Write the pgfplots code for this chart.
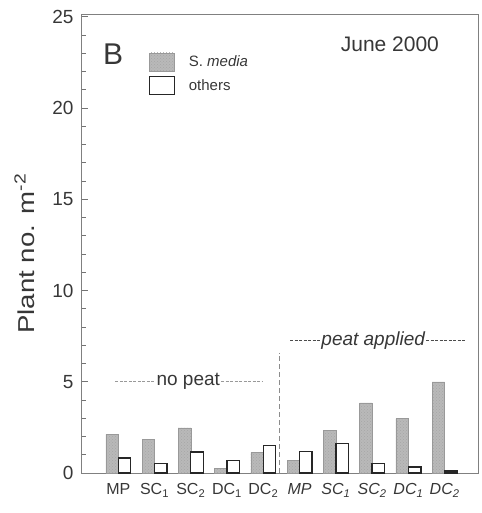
\documentclass[border=0pt]{standalone}
\usepackage{fontspec}
\setmainfont{Liberation Sans}
\usepackage{pgfplots}
\pgfplotsset{compat=1.18}
\usetikzlibrary{patterns}

\definecolor{txt}{RGB}{55,55,55}
\definecolor{barg}{RGB}{185,185,185}

% x: 0-4 no peat, 5-9 peat applied
\pgfplotstableread{
x  smedia others
0  2.12   0.82
1  1.83   0.51
2  2.47   1.15
3  0.27   0.70
4  1.13   1.50
5  0.70   1.17
6  2.34   1.61
7  3.84   0.51
8  2.98   0.33
9  4.99   0.11
}\datatable

\begin{document}
\begin{tikzpicture}
\begin{axis}[
    scale only axis,
    width=396pt, height=458pt,
    xmin=-1, xmax=9.92,
    ymin=0, ymax=25.1,
    ybar=0pt, bar width=12.5pt,
    xtick={0,...,9},
    xticklabels={MP, SC\textsubscript{1}, SC\textsubscript{2}, DC\textsubscript{1}, DC\textsubscript{2},
        \textit{MP}, \textit{SC\textsubscript{1}}, \textit{SC\textsubscript{2}}, \textit{DC\textsubscript{1}}, \textit{DC\textsubscript{2}}},
    x tick style={draw=none},
    xticklabel style={font=\fontsize{16}{16}\selectfont, text=txt, yshift=-7pt},
    ytick={0,5,...,25},
    minor y tick num=4,
    ytick pos=left,
    tick align=inside,
    major tick length=6pt, minor tick length=4pt,
    y tick style={black!55, line width=0.8pt},
    yticklabel style={font=\fontsize{19}{19}\selectfont, text=txt, xshift=-5pt},
    /pgf/number format/assume math mode=true,
    axis line style={black!50, line width=1pt},
    ylabel={\scalebox{1.2}[1]{Plant no. m\textsuperscript{-2}}},
    ylabel style={at={(axis description cs:-0.145,0.479)}, anchor=center,
        font=\fontsize{23}{23}\selectfont, text=txt},
    legend style={draw=none, fill=none, at={(axis cs:0.83,23.05)}, anchor=north west,
        font=\fontsize{15}{15}\selectfont, text=txt, row sep=5pt, inner sep=0pt},
    legend cell align=left,
    legend image code/.code={\draw[#1, bar shift=0pt] (0pt,-9pt) rectangle (25pt,9pt);
        \path (37pt,0pt);},
    clip=false,
]
\addplot[fill=barg, draw=black!40, line width=0.5pt,
    postaction={pattern=crosshatch dots, pattern color=black!35}]
    table[x=x, y=smedia] {\datatable};
\addplot[fill=white, draw=black!85, line width=1.3pt]
    table[x=x, y=others] {\datatable};
\legend{S. \textit{media}, others}

% separator between treatments
\draw[black!45, dash pattern=on 5pt off 3pt, line width=0.8pt] (axis cs:4.44,0) -- (axis cs:4.44,6.6);

\node[font=\fontsize{30}{30}\selectfont, text=txt] at (axis cs:-0.14,22.95) {B};
\node[font=\fontsize{21}{21}\selectfont, text=txt] at (axis cs:7.49,23.5) {June 2000};

\node[font=\fontsize{19}{19}\selectfont, text=txt, inner sep=1pt] (np) at (axis cs:1.93,5.04) {no peat};
\draw[black!40, dash pattern=on 3pt off 1.5pt, line width=0.8pt] (axis cs:-0.08,5.04) -- (np.west);
\draw[black!40, dash pattern=on 3pt off 1.5pt, line width=0.8pt] (np.east) -- (axis cs:3.96,5.04);

\node[font=\fontsize{19}{19}\selectfont\itshape, text=txt, inner sep=1pt] (pa) at (axis cs:7.03,7.27) {peat applied};
\draw[black!70, dash pattern=on 3pt off 1.5pt, line width=0.8pt] (axis cs:4.74,7.27) -- (pa.west);
\draw[black!70, dash pattern=on 3pt off 1.5pt, line width=0.8pt] (pa.east) -- (axis cs:9.6,7.27);
\end{axis}
\path (current axis.south west) ++(-82pt,-40pt);
\path (current axis.north east) ++(3pt,15pt);
\end{tikzpicture}
\end{document}
